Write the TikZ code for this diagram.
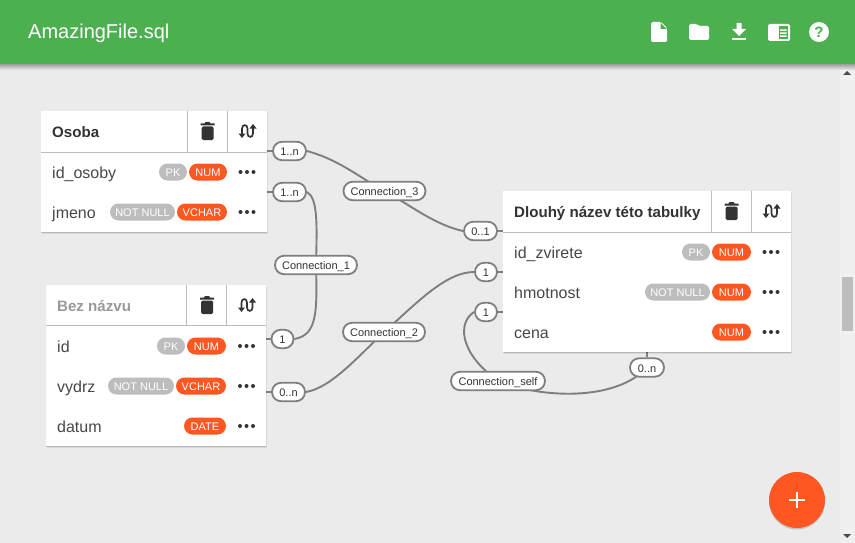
\documentclass[tikz,border=0pt]{standalone}
\usepackage{fontspec}
\setmainfont{Liberation Sans}
\usetikzlibrary{shadows,backgrounds}
\definecolor{barGreen}{HTML}{4CAF50}
\definecolor{pageGrey}{HTML}{EBEBEB}
\definecolor{accent}{HTML}{FF5722}
\definecolor{badgeGrey}{HTML}{BDBDBD}
\definecolor{inkDark}{HTML}{333333}
\definecolor{lineGrey}{HTML}{7F7F7F}
\tikzstyle{card} = [rectangle, fill=white, inner sep=0, outer sep=0, drop shadow={shadow xshift=0.6pt, shadow yshift=-2.4pt, fill=black, opacity=.07}, drop shadow={shadow xshift=0.3pt, shadow yshift=-1.2pt, fill=black, opacity=.16}]
\tikzstyle{divider} = [draw=badgeGrey, line width=1pt]
\tikzstyle{title} = [anchor=base west, inner sep=0, text=inkDark, font=\fontsize{15.1}{18}\selectfont\bfseries]
\tikzstyle{field} = [anchor=base west, inner sep=0, text=inkDark!90, font=\fontsize{16}{19}\selectfont]
\tikzstyle{badge} = [rectangle, rounded corners=8.5pt, minimum height=17pt, inner sep=0, text=white, text height=9.2pt, text depth=0pt, font=\fontsize{11}{13}\selectfont]
\tikzstyle{keybadge} = [badge, fill=badgeGrey]
\tikzstyle{typebadge} = [badge, fill=accent]
\tikzstyle{cardinal} = [rectangle, rounded corners=9.2pt, draw=lineGrey, line width=1.8pt, fill=white, minimum height=18.5pt, inner sep=0, text=inkDark, text height=9.4pt, text depth=0pt, font=\fontsize{11}{13}\selectfont]
\tikzstyle{relation} = [cardinal]
\tikzstyle{wire} = [draw=lineGrey, line width=1.9pt]
\tikzstyle{stub} = [draw=lineGrey, line width=1.4pt]

\newcommand{\rowdots}[2]{
    \fill[inkDark] (#1-6.5,#2) circle (2pt) (#1,#2) circle (2pt) (#1+6.5,#2) circle (2pt);
}
\newcommand{\trashicon}[2]{
    \begin{scope}[shift={(#1,#2)}]
        \fill[inkDark] (-7,-7.5) -- (-3,-7.5) -- (-2,-9) -- (2,-9) -- (3,-7.5) -- (7,-7.5) -- (7,-5.5) -- (-7,-5.5) -- cycle;
        \fill[inkDark, rounded corners=1.5pt] (-6,-4.5) rectangle (6,9);
    \end{scope}
}
\newcommand{\swapicon}[2]{
    \begin{scope}[shift={(#1,#2)}]
        \draw[inkDark, line width=1.7pt] (-5.5,3) -- (-5.5,-2.5) .. controls (-5.5,-7) and (0,-7) .. (0,-2.5) -- (0,2.5) .. controls (0,7) and (5.5,7) .. (5.5,2.5) -- (5.5,-3);
        \fill[inkDark] (-9,2.5) -- (-2,2.5) -- (-5.5,7) -- cycle;
        \fill[inkDark] (2,-2.5) -- (9,-2.5) -- (5.5,-7) -- cycle;
    \end{scope}
}

\begin{document}
\begin{tikzpicture}[x=1pt,y=-1pt]
    \useasboundingbox (0,0) rectangle (855,543);

    % tables
    \node (osoba) [card, minimum width=226pt, minimum height=121pt] at (154,171.5) {};
    \node (beznazvu) [card, minimum width=220pt, minimum height=161pt] at (156,365.5) {};
    \node (dlouhy) [card, minimum width=288pt, minimum height=161pt] at (647,271.5) {};

    % table Osoba
    \draw[divider] (41,152) -- (267,152) (187,111) -- (187,152) (227,111) -- (227,152);
    \node (osobaTitle) [title] at (52,137.3) {Osoba};
    \trashicon{207.5}{131}
    \swapicon{247.5}{131}
    \node (osobaId) [field] at (52,178.2) {id\_osoby};
    \node (osobaIdPk) [keybadge, minimum width=28pt] at (173,172) {PK};
    \node (osobaIdType) [typebadge, minimum width=38pt] at (208,172) {NUM};
    \rowdots{247}{172}
    \node (osobaJmeno) [field] at (52,218.2) {jmeno};
    \node (osobaJmenoNull) [keybadge, minimum width=65pt] at (142.5,212) {NOT NULL};
    \node (osobaJmenoType) [typebadge, minimum width=50pt] at (202,212) {VCHAR};
    \rowdots{247}{212}

    % table Bez nazvu
    \draw[divider] (46,325.5) -- (266,325.5) (186.5,285) -- (186.5,325.5) (226.5,285) -- (226.5,325.5);
    \node (bezTitle) [title, text=black!40] at (57,311.3) {Bez názvu};
    \trashicon{207}{305}
    \swapicon{247}{305}
    \node (bezId) [field] at (57,352.2) {id};
    \node (bezIdPk) [keybadge, minimum width=28pt] at (171,346) {PK};
    \node (bezIdType) [typebadge, minimum width=39pt] at (206.5,346) {NUM};
    \rowdots{246.5}{346}
    \node (bezVydrz) [field] at (57,392.2) {vydrz};
    \node (bezVydrzNull) [keybadge, minimum width=66pt] at (141,386) {NOT NULL};
    \node (bezVydrzType) [typebadge, minimum width=50pt] at (201,386) {VCHAR};
    \rowdots{246.5}{386}
    \node (bezDatum) [field] at (57,432.2) {datum};
    \node (bezDatumType) [typebadge, minimum width=42pt] at (205,426) {DATE};
    \rowdots{246.5}{426}

    % table Dlouhy nazev
    \draw[divider] (503,232) -- (791,232) (711.5,191) -- (711.5,232) (751.5,191) -- (751.5,232);
    \node (dlouhyTitle) [title] at (514,217.3) {Dlouhý název této tabulky};
    \trashicon{731.5}{211}
    \swapicon{771.5}{211}
    \node (dlouhyId) [field] at (514,258.2) {id\_zvirete};
    \node (dlouhyIdPk) [keybadge, minimum width=28pt] at (696,252) {PK};
    \node (dlouhyIdType) [typebadge, minimum width=39pt] at (731.5,252) {NUM};
    \rowdots{771}{252}
    \node (dlouhyHmot) [field] at (514,298.2) {hmotnost};
    \node (dlouhyHmotNull) [keybadge, minimum width=65pt] at (677.5,292) {NOT NULL};
    \node (dlouhyHmotType) [typebadge, minimum width=39pt] at (731.5,292) {NUM};
    \rowdots{771}{292}
    \node (dlouhyCena) [field] at (514,338.2) {cena};
    \node (dlouhyCenaType) [typebadge, minimum width=39pt] at (731.5,332) {NUM};
    \rowdots{771}{332}

    % cardinalities and relations
    \node (osobaOut) [cardinal, minimum width=33pt] at (289.5,151) {1..n};
    \node (jmenoOut) [cardinal, minimum width=33pt] at (289.5,192) {1..n};
    \node (idOut) [cardinal, minimum width=22pt] at (282.5,339) {1};
    \node (vydrzOut) [cardinal, minimum width=33pt] at (288.5,392) {0..n};
    \node (dlouhyIn) [cardinal, minimum width=33pt] at (480.5,231) {0..1};
    \node (zvireIn) [cardinal, minimum width=22pt] at (486,272) {1};
    \node (hmotIn) [cardinal, minimum width=22pt] at (486,312) {1};
    \node (cenaOut) [cardinal, minimum width=34pt] at (647,367.5) {0..n};
    \node (conn3) [relation, minimum width=82pt] at (384.5,191) {Connection\_3};
    \node (conn1) [relation, minimum width=82pt] at (316,265) {Connection\_1};
    \node (conn2) [relation, minimum width=82pt] at (384,332) {Connection\_2};
    \node (connself) [relation, minimum width=94pt] at (498,381) {Connection\_self};

    % add button
    \node (addBtn) [circle, fill=accent, minimum size=56pt, inner sep=0, drop shadow={shadow xshift=0pt, shadow yshift=-1.5pt, fill=black, opacity=.18}] at (797,500) {};
    \draw[white, line width=2pt] (789,500) -- (805,500) (797,492) -- (797,508);

    % everything under the tables
    \begin{pgfonlayer}{background}
        \fill[pageGrey] (0,0) rectangle (855,543);
        \fill[black!6] (840,64) rectangle (855,543);
        \fill[badgeGrey] (842,277) rectangle (853,331);
        \fill[black!70] (843,75) -- (851,75) -- (847,71) -- cycle;
        \fill[black!70] (843,534) -- (851,534) -- (847,538) -- cycle;
        \draw[stub] (osoba.east |- osobaOut) -- (osobaOut);
        \draw[stub] (osoba.east |- jmenoOut) -- (jmenoOut);
        \draw[stub] (beznazvu.east |- idOut) -- (idOut);
        \draw[stub] (beznazvu.east |- vydrzOut) -- (vydrzOut);
        \draw[stub] (dlouhy.west |- dlouhyIn) -- (dlouhyIn);
        \draw[stub] (dlouhy.west |- zvireIn) -- (zvireIn);
        \draw[stub] (dlouhy.west |- hmotIn) -- (hmotIn);
        \draw[stub] (dlouhy.south -| cenaOut) -- (cenaOut);
        \draw[wire] (osobaOut.east) .. controls (340,160) and (360,178) .. (conn3.center);
        \draw[wire] (conn3.center) .. controls (410,205) and (435,225) .. (dlouhyIn.west);
        \draw[wire] (jmenoOut.east) .. controls (318,198) and (317,225) .. (conn1.center);
        \draw[wire] (conn1.center) .. controls (317,310) and (318,335) .. (idOut.east);
        \draw[wire] (vydrzOut.east) .. controls (330,388) and (355,360) .. (conn2.center);
        \draw[wire] (conn2.center) .. controls (415,305) and (445,272) .. (zvireIn.west);
        \draw[wire] (hmotIn.west) .. controls (458,322) and (458,352) .. (connself.center);
        \draw[wire] (connself.center) .. controls (540,398) and (615,402) .. (cenaOut.center);
    \end{pgfonlayer}

    % top bar
    \shade[top color=black!38, bottom color=pageGrey] (0,64) rectangle (855,70);
    \fill[barGreen] (0,0) rectangle (855,64);
    \node (fileName) [anchor=base west, inner sep=0, text=white, font=\fontsize{20}{24}\selectfont] at (28,39) {AmazingFile.sql};
    \fill[white, rounded corners=1.5pt] (651,22) -- (661,22) -- (667,28) -- (667,42) -- (651,42) -- cycle;
    \fill[barGreen] (660.5,23) -- (660.5,29) -- (666.5,29) -- cycle;
    \fill[white, rounded corners=1.5pt] (689,24) -- (697,24) -- (699,26) -- (709,26) -- (709,40) -- (689,40) -- cycle;
    \fill[white] (736.5,23) rectangle (741.5,29) (732,29) -- (746,29) -- (739,36) -- cycle;
    \fill[white] (732,38) rectangle (746,40);
    \fill[white, rounded corners=1.5pt] (768,24) rectangle (790,41);
    \fill[barGreen] (778.5,26) rectangle (788,39);
    \fill[white] (780,29.5) rectangle (786.5,31) (780,32.5) rectangle (786.5,34) (780,35.5) rectangle (786.5,37);
    \node (helpIcon) [circle, fill=white, minimum size=20pt, inner sep=0, text=barGreen, font=\fontsize{15}{15}\selectfont\bfseries] at (819,32) {?};
\end{tikzpicture}
\end{document}
